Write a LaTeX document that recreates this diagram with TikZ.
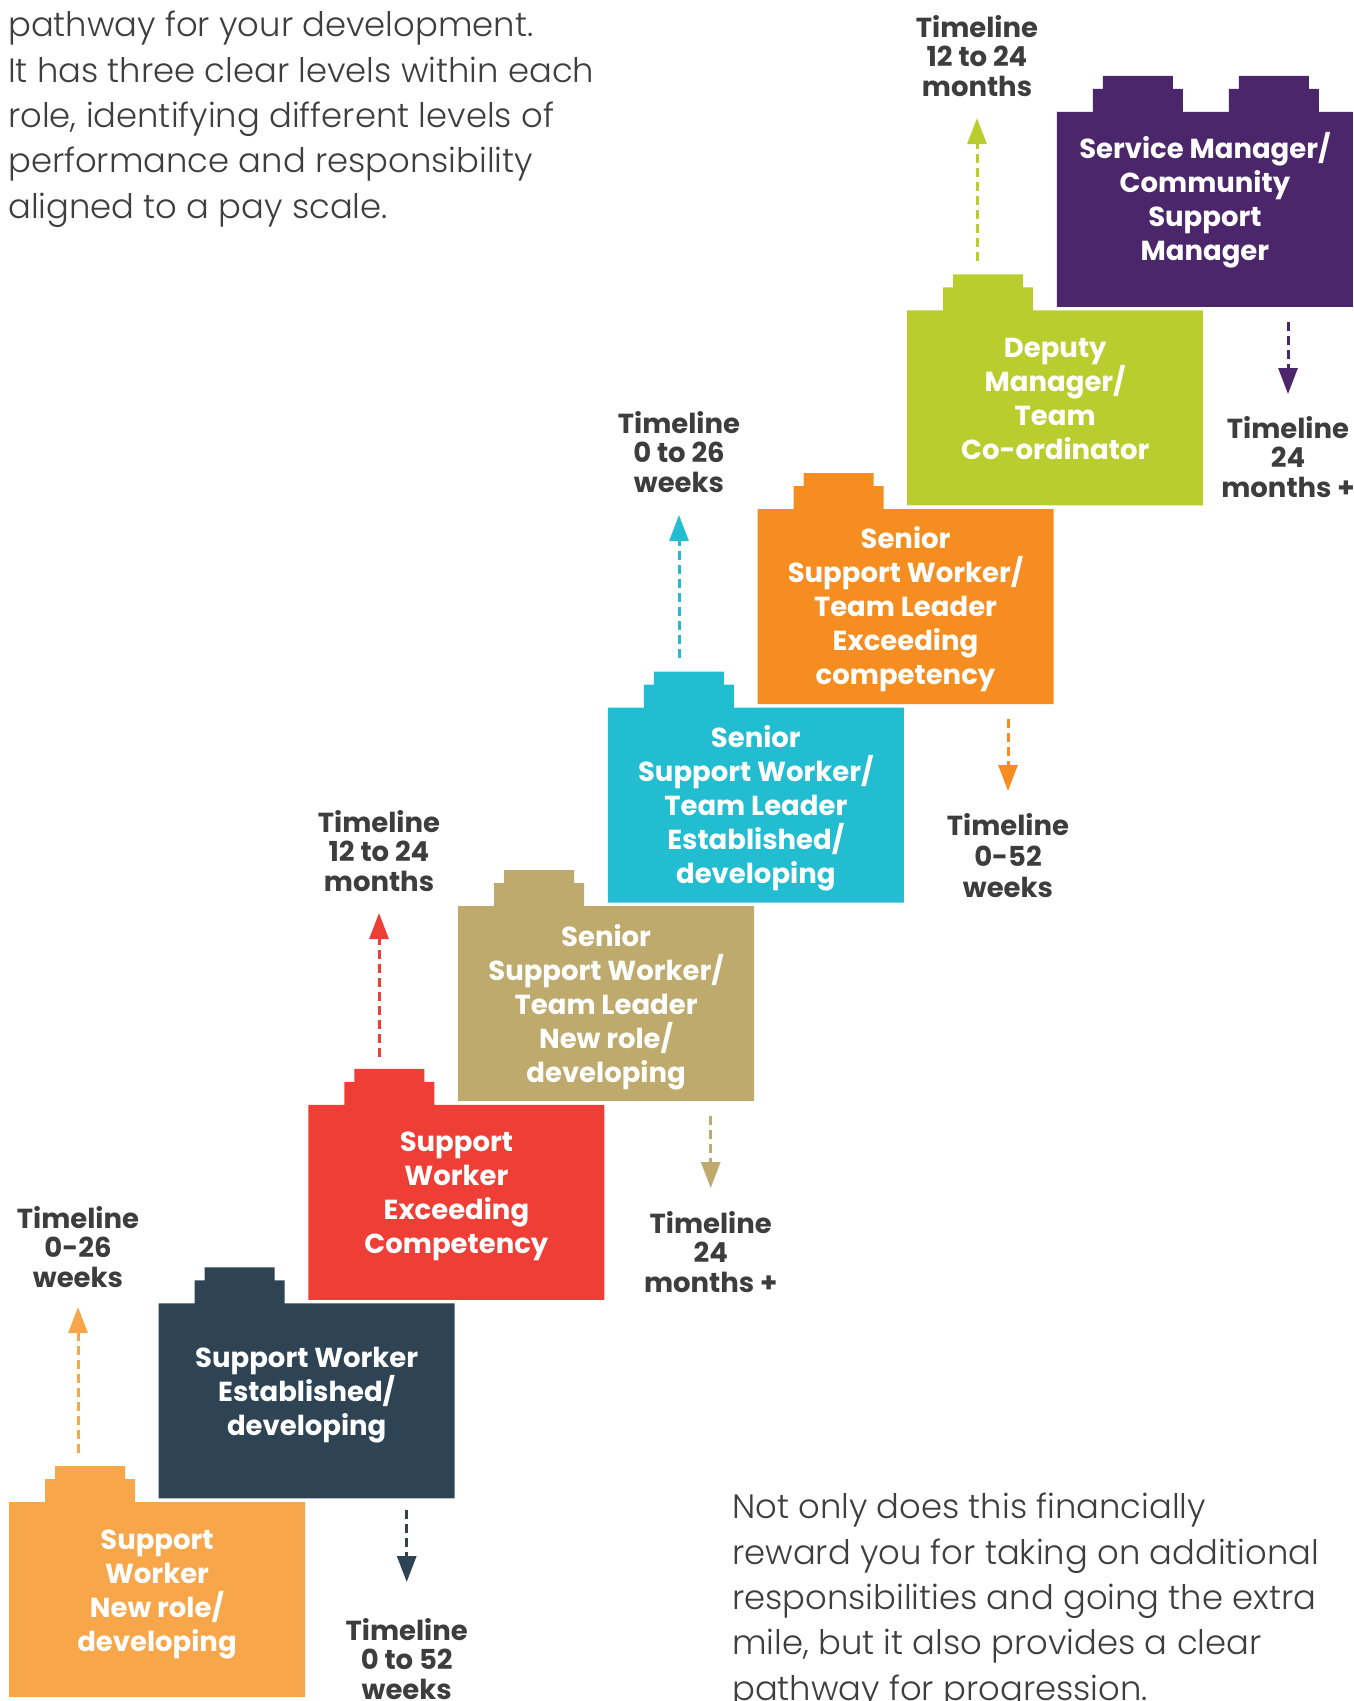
\documentclass[tikz,border=0pt]{standalone}
\usepackage{fontspec}
\setmainfont{Poppins}
\newfontfamily\bodyfont{Poppins}[UprightFont=* Light]
\usetikzlibrary{arrows.meta}
\definecolor{cA}{HTML}{F8A64A}
\definecolor{cB}{HTML}{2E4353}
\definecolor{cC}{HTML}{EE3E36}
\definecolor{cD}{HTML}{BDAA6C}
\definecolor{cE}{HTML}{22BDD0}
\definecolor{cF}{HTML}{F58D20}
\definecolor{cG}{HTML}{B9CE2E}
\definecolor{cH}{HTML}{4C266B}
\definecolor{tlgray}{HTML}{3D3D3D}
\definecolor{bodygray}{HTML}{3E3E3E}
\newcommand\brickshape[3]{\fill[#3] (#1,#2) -- ++(36,0) -- ++(0,-23) -- ++(10,0) -- ++(0,-13) -- ++(70,0) -- ++(0,13) -- ++(10,0) -- ++(0,23) -- ++(170,0) -- ++(0,195) -- ++(-296,0) -- cycle;}
\tikzset{
  bricktext/.style={text=white, font=\bfseries\fontsize{27.5bp}{34bp}\selectfont, align=center, inner sep=0pt, anchor=base},
  tl/.style={text=tlgray, font=\bfseries\fontsize{27.5bp}{29.5bp}\selectfont, align=center, inner sep=0pt, anchor=base},
  tlarrow/.style={dash pattern=on 9bp off 5bp, line width=3bp, -{Triangle[width=19bp,length=26bp]}},
  body/.style={text=bodygray, font=\bodyfont\fontsize{33.8bp}{45.3bp}\selectfont, align=left, inner sep=0pt, anchor=base west}
}
\begin{document}
\begin{tikzpicture}[x=1bp,y=-1bp]
\useasboundingbox (0,0) rectangle (1354,1701);
\clip (0,0) rectangle (1354,1701);
% body texts (anchor = baseline of last line)
\node[body] (t1) at (8,218) {pathway for your development.\\It has three clear levels within each\\role, identifying different levels of\\performance and responsibility\\aligned to a pay scale.};
\node[body] (t2) at (732,1700) {Not only does this financially\\reward you for taking on additional\\responsibilities and going the extra\\mile, but it also provides a clear\\pathway for progression.};
% bricks
\brickshape{9}{1502}{cA}
\brickshape{158.7}{1303.4}{cB}
\brickshape{308.4}{1104.8}{cC}
\brickshape{458.1}{906.2}{cD}
\brickshape{607.8}{707.6}{cE}
\brickshape{757.5}{509}{cF}
\brickshape{907.2}{310.4}{cG}
\fill[cH] (1056.9,111.8) -- ++(36,0) -- ++(0,-23) -- ++(10,0) -- ++(0,-13) -- ++(70,0) -- ++(0,13) -- ++(10,0) -- ++(0,23)
  -- ++(46,0) -- ++(0,-23) -- ++(10,0) -- ++(0,-13) -- ++(70,0) -- ++(0,13) -- ++(10,0) -- ++(0,23)
  -- ++(34,0) -- ++(0,195) -- ++(-296,0) -- cycle;
% brick texts (anchor = baseline of last line)
\node[bricktext] (b0) at (157,1651) {Support\\Worker\\New role/\\developing};
\node[bricktext] (b1) at (306.7,1435.4) {Support Worker\\Established/\\developing};
\node[bricktext] (b2) at (456.4,1253.5) {Support\\Worker\\Exceeding\\Competency};
\node[bricktext] (b3) at (606.1,1082.4) {Senior\\Support Worker/\\Team Leader\\New role/\\developing};
\node[bricktext] (b4) at (755.8,883.9) {Senior\\Support Worker/\\Team Leader\\Established/\\developing};
\node[bricktext] (b5) at (905.5,684.2) {Senior\\Support Worker/\\Team Leader\\Exceeding\\competency};
\node[bricktext] (b6) at (1055.2,459.3) {Deputy\\Manager/\\Team\\Co-ordinator};
\node[bricktext] (b7) at (1204.9,260) {Service Manager/\\Community\\Support\\Manager};
% arrows: up
\coordinate (s0) at (78,1453);   \coordinate (e0) at (78,1307);
\coordinate (s2) at (379,1057);  \coordinate (e2) at (379,913);
\coordinate (s4) at (679,658);   \coordinate (e4) at (679,515);
\coordinate (s6) at (977,261);   \coordinate (e6) at (977,118);
% arrows: down
\coordinate (s1) at (406.7,1510); \coordinate (e1) at (406.7,1582);
\coordinate (s3) at (710.7,1116); \coordinate (e3) at (710.7,1188);
\coordinate (s5) at (1008,719);   \coordinate (e5) at (1008,791);
\coordinate (s7) at (1288,322);   \coordinate (e7) at (1288,394);
\draw[tlarrow,cA] (s0) -- (e0);
\draw[tlarrow,cB] (s1) -- (e1);
\draw[tlarrow,cC] (s2) -- (e2);
\draw[tlarrow,cD] (s3) -- (e3);
\draw[tlarrow,cE] (s4) -- (e4);
\draw[tlarrow,cF] (s5) -- (e5);
\draw[tlarrow,cG] (s6) -- (e6);
\draw[tlarrow,cH] (s7) -- (e7);
% labels (anchor = baseline of last line)
\node[tl] (l0) at (78,1287) {Timeline\\0-26\\weeks};
\node[tl] (l1) at (406.7,1699) {Timeline\\0 to 52\\weeks};
\node[tl] (l2) at (379,891) {Timeline\\12 to 24\\months};
\node[tl] (l3) at (710.7,1292) {Timeline\\24\\months +};
\node[tl] (l4) at (679,492) {Timeline\\0 to 26\\weeks};
\node[tl,font=\bfseries\fontsize{27.5bp}{31bp}\selectfont] (l5) at (1008,897) {Timeline\\0-52\\weeks};
\node[tl] (l6) at (977,96) {Timeline\\12 to 24\\months};
\node[tl] (l7) at (1288,497) {Timeline\\24\\months +};
\end{tikzpicture}
\end{document}
